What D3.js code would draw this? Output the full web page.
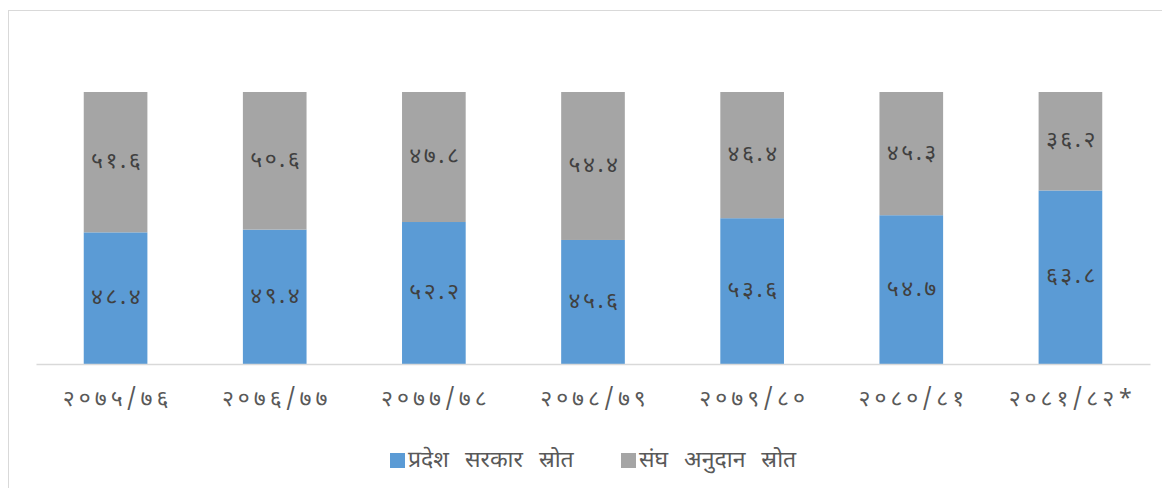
<!DOCTYPE html>
<html><head><meta charset="utf-8">
<script src="https://cdn.jsdelivr.net/npm/d3@7"></script>
<style>
html,body{margin:0;padding:0;background:#fff;}
svg{display:block;}
text{font-family:"Noto Sans Devanagari","Noto Sans","Lohit Devanagari","FreeSans",sans-serif;}
</style></head>
<body>
<svg id="c" width="1162" height="488"></svg>
<script>
const categories = ["२०७५/७६","२०७६/७७","२०७७/७८","२०७८/७९","२०७९/८०","२०८०/८१","२०८१/८२*"];
const provincial = [48.4, 49.4, 52.2, 45.6, 53.6, 54.7, 63.8];
const federal = [51.6, 50.6, 47.8, 54.4, 46.4, 45.3, 36.2];
const seriesNames = ["प्रदेश सरकार स्रोत","संघ अनुदान स्रोत"];
const colors = ["#5b9bd5","#a5a5a5"];

const toDev = s => String(s).replace(/[0-9]/g, d => "०१२३४५६७८९"[+d]);

const svg = d3.select("#c");
svg.append("rect").attr("x",8.5).attr("y",10.5).attr("width",1200).attr("height",500)
  .attr("fill","#fff").attr("stroke","#d9d9d9").attr("stroke-width",1);

const pLeft=36, pRight=1150, pTop=92, pBottom=364;
const x = d3.scaleBand().domain(categories).range([pLeft,pRight]).paddingInner(0.6).paddingOuter(0.3);
const y = d3.scaleLinear().domain([0,100]).range([pBottom,pTop]);

const rows = categories.map((c,i)=>({cat:c, p:provincial[i], f:federal[i]}));
const stack = d3.stack().keys(["p","f"])(rows);

stack.forEach((layer,li)=>{
  const g = svg.append("g");
  g.selectAll("rect").data(layer).join("rect")
    .attr("x",d=>x(d.data.cat)).attr("width",x.bandwidth())
    .attr("y",d=>y(d[1])).attr("height",d=>y(d[0])-y(d[1]))
    .attr("fill",colors[li]);
  g.selectAll("text").data(layer).join("text")
    .attr("x",d=>x(d.data.cat)+x.bandwidth()/2)
    .attr("y",d=>(y(d[0])+y(d[1]))/2)
    .attr("dx",1.5)
    .attr("text-anchor","middle").attr("dominant-baseline","central")
    .attr("font-size",23).attr("fill","#404040")
    .style("letter-spacing","2.5px")
    .text(d=>toDev((d[1]-d[0]).toFixed(1)));
});

const ax = svg.append("g").attr("transform",`translate(0,${pBottom})`)
  .call(d3.axisBottom(x).tickSize(0).tickPadding(26));
ax.select(".domain").attr("stroke","#d9d9d9").attr("stroke-width",1.5);
ax.selectAll("text").attr("font-size",23).attr("fill","#595959").attr("dx",2)
  .style("letter-spacing","4px")
  .style("font-family",'"Noto Sans Devanagari","Noto Sans",sans-serif');

const leg = svg.append("g");
const legX = [390, 621];
seriesNames.forEach((n,i)=>{
  leg.append("rect").attr("x",legX[i]).attr("y",453).attr("width",15).attr("height",15).attr("fill",colors[i]);
  leg.append("text").attr("x",legX[i]+18).attr("y",461).attr("dominant-baseline","central")
    .attr("font-size",23).attr("fill","#595959").style("word-spacing","10px").text(n);
});
</script>
</body></html>
